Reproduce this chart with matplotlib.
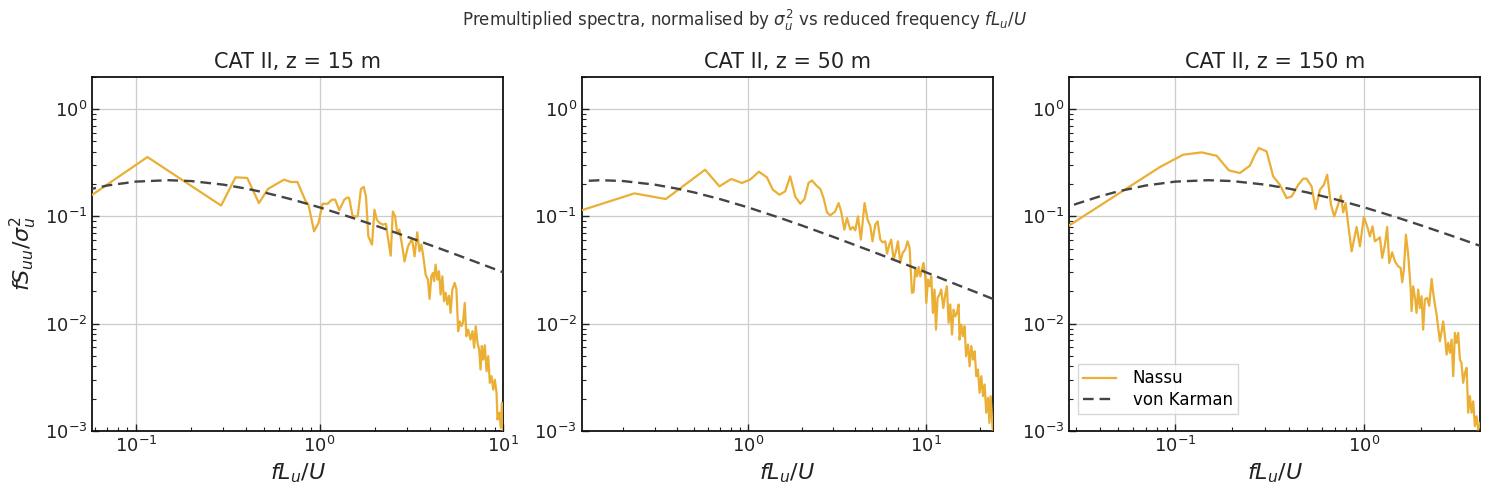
import numpy as np
import matplotlib
matplotlib.use("Agg")
import matplotlib.pyplot as plt

# ---------------- data ----------------
titles = ["CAT II, z = 15 m", "CAT II, z = 50 m", "CAT II, z = 150 m"]

n1 = [0.058, 0.1157, 0.2914, 0.349, 0.404, 0.468, 0.524, 0.641, 0.697, 0.758,
      0.841, 0.871, 0.934, 0.987, 1.038, 1.106, 1.167, 1.217, 1.28, 1.363,
      1.42, 1.45, 1.514, 1.613, 1.68, 1.74, 1.79, 1.843, 1.93, 1.99,
      2.05, 2.12, 2.21, 2.30, 2.35, 2.44, 2.505, 2.58, 2.645, 2.72,
      2.82, 2.90, 3.03, 3.19, 3.29, 3.40, 3.50, 3.58, 3.66, 3.78,
      3.89, 3.97, 4.06, 4.14, 4.20, 4.28, 4.38, 4.47, 4.56, 4.66,
      4.76, 4.86, 4.96, 5.07, 5.17, 5.28, 5.44, 5.56, 5.68, 5.79,
      5.92, 6.04, 6.17, 6.30, 6.44, 6.63, 6.80, 6.94, 7.08, 7.24,
      7.39, 7.52, 7.64, 7.78, 7.93, 8.11, 8.28, 8.45, 8.63, 8.82,
      9.00, 9.19, 9.30, 9.51, 9.70, 9.83, 10.0]
s1 = [0.159, 0.357, 0.126, 0.231, 0.228, 0.133, 0.180, 0.220, 0.209, 0.209,
      0.138, 0.128, 0.0725, 0.0868, 0.131, 0.131, 0.143, 0.143, 0.114, 0.143,
      0.150, 0.148, 0.100, 0.100, 0.180, 0.188, 0.153, 0.0651, 0.0545, 0.115,
      0.093, 0.0868, 0.0837, 0.0852, 0.0651, 0.043, 0.111, 0.100, 0.070, 0.0752,
      0.0526, 0.038, 0.0526, 0.0616, 0.0424, 0.071, 0.0472, 0.0545, 0.044, 0.0286,
      0.0257, 0.0170, 0.0276, 0.0297, 0.0249, 0.0355, 0.0257, 0.0308, 0.0187, 0.0276,
      0.0162, 0.0194, 0.0151, 0.0182, 0.0126, 0.0208, 0.024, 0.0208, 0.0085, 0.0105,
      0.00946, 0.0103, 0.0156, 0.00763, 0.0088, 0.0071, 0.0085, 0.00596, 0.00946, 0.00663,
      0.00574, 0.00374, 0.0062, 0.00463, 0.0063, 0.0036, 0.00498, 0.00281, 0.00324, 0.00243,
      0.003, 0.00227, 0.00128, 0.00148, 0.00107, 0.00183, 0.001]

n2 = [0.1167, 0.2306, 0.346, 0.575, 0.692, 0.806, 0.925, 1.03, 1.153, 1.278,
      1.381, 1.505, 1.62, 1.728, 1.844, 1.968, 2.08, 2.19, 2.29, 2.42,
      2.55, 2.66, 2.78, 2.90, 3.09, 3.23, 3.34, 3.48, 3.60, 3.76,
      3.89, 4.01, 4.15, 4.31, 4.52, 4.70, 4.87, 5.01, 5.19, 5.35,
      5.54, 5.70, 5.91, 6.04, 6.22, 6.38, 6.58, 6.78, 6.96, 7.17,
      7.39, 7.65, 7.88, 8.09, 8.34, 8.52, 8.71, 8.90, 9.09, 9.30,
      9.49, 9.69, 9.91, 10.04, 10.26, 10.48, 10.71, 10.94, 11.17, 11.38,
      11.62, 11.92, 12.18, 12.51, 12.83, 13.11, 13.40, 13.69, 14.0, 14.29,
      14.61, 14.93, 15.25, 15.44, 15.79, 16.13, 16.48, 16.78, 17.22, 17.58,
      17.97, 18.37, 18.76, 19.17, 19.59, 20.0, 20.45, 20.9, 21.34, 21.8,
      22.3, 22.7, 23.07, 23.7]
s2 = [0.114, 0.1637, 0.145, 0.272, 0.1905, 0.223, 0.2047, 0.22, 0.2607, 0.231,
      0.177, 0.159, 0.171, 0.236, 0.153, 0.131, 0.145, 0.2047, 0.216, 0.1944,
      0.180, 0.148, 0.109, 0.102, 0.111, 0.133, 0.111, 0.0752, 0.0966, 0.0752,
      0.0796, 0.0741, 0.100, 0.0607, 0.133, 0.093, 0.0807, 0.0585, 0.0837, 0.0898,
      0.0607, 0.0573, 0.0585, 0.045, 0.0545, 0.0607, 0.0395, 0.0472, 0.0585, 0.0368,
      0.0456, 0.049, 0.0585, 0.0508, 0.0194, 0.0198, 0.0331, 0.0276, 0.0338, 0.0276,
      0.0319, 0.0368, 0.0276, 0.0156, 0.0257, 0.0223, 0.0276, 0.0126, 0.0208, 0.0088,
      0.0174, 0.0187, 0.0208, 0.0140, 0.0187, 0.0223, 0.0102, 0.0151, 0.00792, 0.0135,
      0.0117, 0.0126, 0.0151, 0.0071, 0.0098, 0.00763, 0.00946, 0.00498, 0.00639, 0.00401,
      0.0062, 0.00463, 0.00553, 0.00324, 0.00374, 0.00227, 0.00324, 0.00211, 0.00271, 0.00148,
      0.00204, 0.00119, 0.00211, 0.00103]

n3 = [0.0275, 0.0830, 0.1102, 0.138, 0.1656, 0.1923, 0.220, 0.2484, 0.264, 0.277,
      0.3044, 0.330, 0.358, 0.3885, 0.413, 0.448, 0.4755, 0.4955, 0.527, 0.553,
      0.583, 0.612, 0.637, 0.667, 0.694, 0.723, 0.753, 0.774, 0.797, 0.823,
      0.858, 0.912, 0.949, 0.996, 1.037, 1.072, 1.107, 1.139, 1.172, 1.211,
      1.245, 1.287, 1.323, 1.356, 1.406, 1.454, 1.513, 1.558, 1.589, 1.622,
      1.662, 1.709, 1.760, 1.781, 1.816, 1.862, 1.892, 1.931, 1.971, 2.012,
      2.051, 2.094, 2.153, 2.208, 2.274, 2.317, 2.366, 2.415, 2.464, 2.515,
      2.568, 2.618, 2.673, 2.729, 2.782, 2.841, 2.90, 2.958, 3.02, 3.08,
      3.144, 3.208, 3.27, 3.34, 3.41, 3.483, 3.55, 3.625, 3.70, 3.774,
      3.852, 3.933, 4.01, 4.11]
s3 = [0.0824, 0.288, 0.3753, 0.3945, 0.367, 0.268, 0.2535, 0.2965, 0.375, 0.433,
      0.403, 0.2357, 0.197, 0.148, 0.153, 0.197, 0.2244, 0.2244, 0.190, 0.117,
      0.177, 0.197, 0.2445, 0.1285, 0.100, 0.124, 0.156, 0.109, 0.133, 0.0837,
      0.0472, 0.0796, 0.0526, 0.0987, 0.0807, 0.0651, 0.0807, 0.0585, 0.0607, 0.0638,
      0.041, 0.0545, 0.0796, 0.0368, 0.0462, 0.0381, 0.0342, 0.0331, 0.0243, 0.0319,
      0.0676, 0.044, 0.0216, 0.0131, 0.0223, 0.0168, 0.0126, 0.0208, 0.0140, 0.018,
      0.0088, 0.0168, 0.0174, 0.0147, 0.0261, 0.0194, 0.0151, 0.0122, 0.00914, 0.00686,
      0.0085, 0.0105, 0.00763, 0.00515, 0.00663, 0.00535, 0.0071, 0.00324, 0.0082, 0.00663,
      0.0082, 0.00463, 0.00432, 0.00281, 0.00348, 0.00388, 0.00148, 0.00211, 0.00148, 0.00189,
      0.00111, 0.00137, 0.00103, 0.00119]

# von Karman reference curve
vk_n = [0.02, 0.03, 0.04, 0.05, 0.07, 0.1, 0.15, 0.2, 0.3, 0.4, 0.5, 0.7,
        1.0, 1.5, 2.0, 3.0, 4.0, 5.0, 7.0, 10.0, 15.0, 20.0, 25.0]
vk_s = [0.0998, 0.1307, 0.1538, 0.1711, 0.1939, 0.2107, 0.2172, 0.2132, 0.1974,
        0.1812, 0.1670, 0.1445, 0.1213, 0.0973, 0.0824, 0.0646, 0.0540, 0.0470,
        0.0379, 0.0301, 0.0230, 0.01906, 0.01645]

# ---------------- plotting ----------------
ORANGE = "#EAAF34"
DASH = "#444444"

plt.rcParams["font.family"] = ["DejaVu Sans"]
fig = plt.figure(figsize=(14.89, 4.95), dpi=100)

lefts = [0.062, 0.3907, 0.7181]
width = 0.276
bottom, top = 0.1293, 0.845

series = [(n1, s1), (n2, s2), (n3, s3)]
for i, (nx, sy) in enumerate(series):
    ax = fig.add_axes([lefts[i], bottom, width, top - bottom])
    ax.plot(nx, sy, color=ORANGE, lw=1.6, label="Nassu", zorder=3)
    ax.plot(vk_n, vk_s, color=DASH, lw=1.7, ls=(0, (4.5, 2.5)), label="von Karman", zorder=4)
    ax.set_xscale("log")
    ax.set_yscale("log")
    ax.set_xlim(min(nx), max(nx))
    ax.set_ylim(1e-3, 2.0)
    ax.grid(True, which="major", color="#cccccc", lw=0.9)
    ax.set_axisbelow(True)
    ax.tick_params(which="both", direction="in", labelsize=13, colors="#222222")
    ax.tick_params(which="major", length=5, width=1)
    ax.tick_params(which="minor", length=3, width=0.8)
    for sp in ax.spines.values():
        sp.set_linewidth(1.3)
        sp.set_color("#111111")
    ax.set_title(titles[i], fontsize=15, color="#222222", pad=6)
    ax.set_xlabel(r"$fL_u/U$", fontsize=16, color="#222222")
    if i == 0:
        ax.set_ylabel(r"$fS_{uu}/\sigma_u^2$", fontsize=16, color="#222222")
    if i == 2:
        leg = ax.legend(loc="lower left", bbox_to_anchor=(0.0, 0.025), fontsize=12,
                        frameon=True, fancybox=False,
                        borderpad=0.3, labelspacing=0.2, handlelength=2.0,
                        handletextpad=1.0, borderaxespad=0.5)
        leg.get_frame().set_edgecolor("#cccccc")
        leg.get_frame().set_linewidth(1.0)

fig.suptitle(r"Premultiplied spectra, normalised by $\sigma_u^2$ vs reduced frequency $fL_u/U$",
             fontsize=12, color="#333333", y=0.985)

fig.savefig("out.png", dpi=100)
